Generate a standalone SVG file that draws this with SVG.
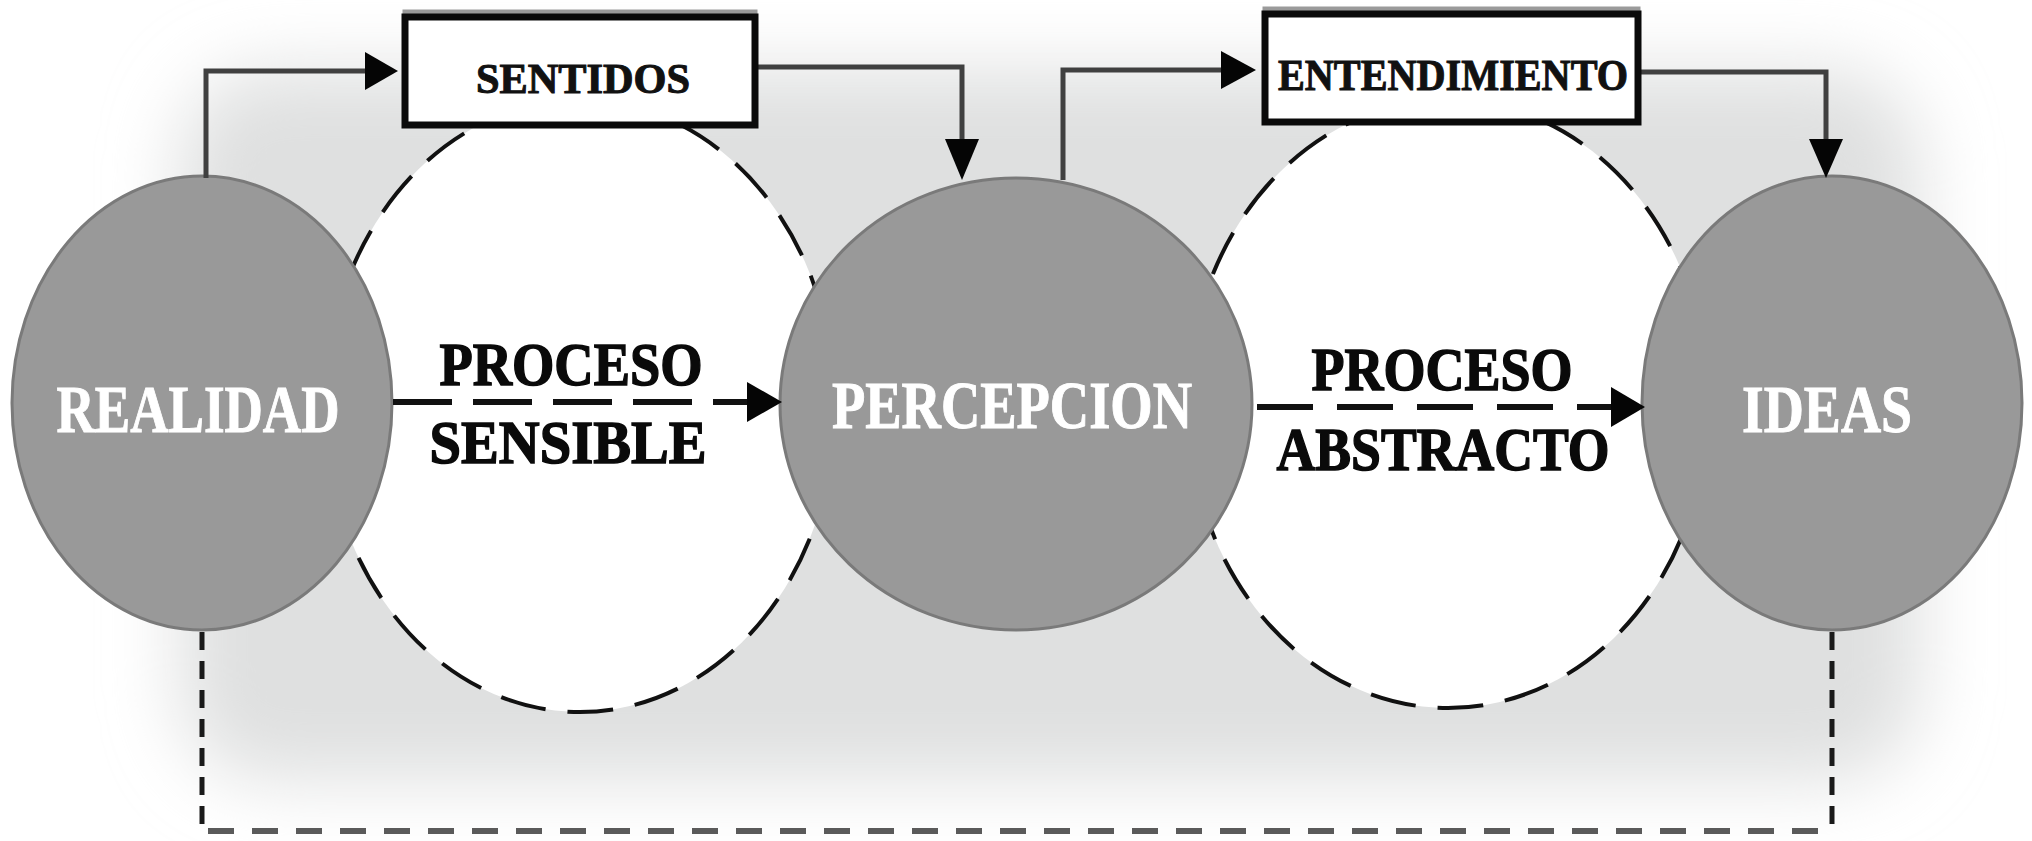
<svg xmlns="http://www.w3.org/2000/svg" width="2032" height="841" viewBox="0 0 2032 841">
  <defs>
    <filter id="soft" x="-20%" y="-20%" width="140%" height="140%">
      <feGaussianBlur stdDeviation="36"/>
    </filter>
    <style>
      .node { fill: #999999; stroke: #7a7a7a; stroke-width: 3; }
      .zone { fill: #ffffff; stroke: #111111; stroke-width: 4; stroke-dasharray: 46 22; }
      .box { fill: #ffffff; stroke: #0a0a0a; stroke-width: 7; }
      .boxshadow { fill: none; stroke: #9a9a9a; stroke-width: 5; }
      .wire { fill: none; stroke: #404040; stroke-width: 5; }
      .head { fill: #050505; }
      .dash { fill: none; stroke: #111111; stroke-width: 6; }
      .ntext { font-family: "Liberation Serif", "Times New Roman", serif; font-weight: bold; fill: #ffffff; font-size: 68px; text-anchor: middle; stroke: #ffffff; stroke-width: 1; }
      .btext { font-family: "Liberation Serif", "Times New Roman", serif; font-weight: bold; fill: #111111; text-anchor: middle; stroke: #111111; stroke-width: 1; }
      .ptext { font-family: "Liberation Serif", "Times New Roman", serif; font-weight: bold; fill: #0a0a0a; font-size: 62px; text-anchor: middle; stroke: #0a0a0a; stroke-width: 1.5; }
    </style>
  </defs>

  <rect x="0" y="0" width="2032" height="841" fill="#ffffff"/>
  <g id="background-shade" filter="url(#soft)">
    <rect x="180" y="70" width="1740" height="710" rx="90" fill="#dfe0e0"/>
  </g>

  <g id="zones">
    <ellipse id="zone-sensible" class="zone" cx="580" cy="406" rx="255" ry="306"/>
    <ellipse id="zone-abstracto" class="zone" cx="1448" cy="404" rx="260" ry="304"/>
  </g>

  <g id="node-realidad">
    <ellipse class="node" cx="202" cy="403" rx="190" ry="227"/>
    <text class="ntext" x="198" y="432" textLength="283" lengthAdjust="spacingAndGlyphs">REALIDAD</text>
  </g>
  <g id="node-percepcion">
    <ellipse class="node" cx="1016" cy="404" rx="236" ry="226"/>
    <text class="ntext" x="1012" y="428" textLength="360" lengthAdjust="spacingAndGlyphs">PERCEPCION</text>
  </g>
  <g id="node-ideas">
    <ellipse class="node" cx="1832" cy="403" rx="190" ry="227"/>
    <text class="ntext" x="1827" y="432" textLength="170" lengthAdjust="spacingAndGlyphs">IDEAS</text>
  </g>

  <g id="connectors">
    <path class="wire" d="M206 178 V71 H370"/>
    <polygon class="head" points="365,52 398,71 365,90"/>
    <path class="wire" d="M758 67 H962 V142"/>
    <polygon class="head" points="945,139 979,139 962,180"/>
    <path class="wire" d="M1063 180 V70 H1226"/>
    <polygon class="head" points="1221,51 1256,70 1221,89"/>
    <path class="wire" d="M1640 72 H1826 V142"/>
    <polygon class="head" points="1809,139 1843,139 1826,178"/>
    <path class="dash" d="M393 402 H752" stroke-dasharray="59 21"/>
    <polygon class="head" points="747,382 782,402 747,422"/>
    <path class="dash" d="M1257 407 H1615" stroke-dasharray="56 24"/>
    <polygon class="head" points="1611,387 1645,407 1611,427"/>
    <path fill="none" stroke="#1a1a1a" stroke-width="5" stroke-dasharray="18 11" d="M202 632 V831"/>
    <path fill="none" stroke="#5a5a5a" stroke-width="6" stroke-dasharray="26 18" d="M208 831 H1828"/>
    <path fill="none" stroke="#1a1a1a" stroke-width="5" stroke-dasharray="18 11" d="M1832 632 V831"/>
    <text class="ptext" x="571" y="385" textLength="263" lengthAdjust="spacingAndGlyphs">PROCESO</text>
    <text class="ptext" x="568" y="463" textLength="277" lengthAdjust="spacingAndGlyphs">SENSIBLE</text>
    <text class="ptext" x="1442" y="390" textLength="261" lengthAdjust="spacingAndGlyphs">PROCESO</text>
    <text class="ptext" x="1443" y="470" textLength="333" lengthAdjust="spacingAndGlyphs">ABSTRACTO</text>
  </g>

  <g id="node-sentidos">
    <rect class="boxshadow" x="405" y="12" width="350" height="112"/>
    <rect class="box" x="405" y="17" width="350" height="108"/>
    <text class="btext" x="583" y="93" font-size="42" textLength="214" lengthAdjust="spacingAndGlyphs">SENTIDOS</text>
  </g>
  <g id="node-entendimiento">
    <rect class="boxshadow" x="1265" y="9" width="373" height="112"/>
    <rect class="box" x="1265" y="14" width="373" height="108"/>
    <text class="btext" x="1453" y="90" font-size="44" textLength="350" lengthAdjust="spacingAndGlyphs">ENTENDIMIENTO</text>
  </g>
</svg>
